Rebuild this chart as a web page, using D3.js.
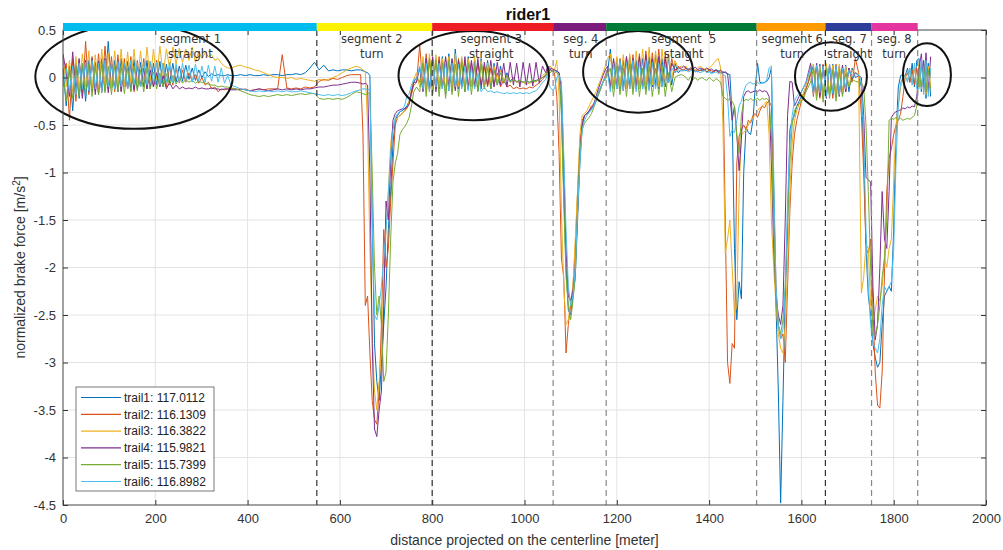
<!DOCTYPE html>
<html>
<head>
<meta charset="utf-8">
<script src="https://cdn.jsdelivr.net/npm/d3@7/dist/d3.min.js"></script>
<style>
    body { margin: 0; background: #fff; }
    svg text { font-family: "Liberation Sans", Arial, sans-serif; }
</style>
</head>
<body>
<div id="chart"></div>
<script>
// distance along the centerline [m], shared by all trails
const distance = [
    0,7,14,21,28,35,42,49,56,63,70,77,84,91,98,105,112,119,126,133,140,147,154,161,168,175,182,189,196,203,
    210,217,224,231,238,245,252,259,266,273,280,287,294,301,308,315,322,329,336,343,350,357,364,
    375,385,395,405,415,425,435,445,455,465,475,485,495,505,515,525,535,545,555,565,575,585,595,605,615,625,635,
    645,650,655,660,665,670,675,680,685,690,695,700,705,710,715,720,725,730,735,740,745,750,755,760,
    766,773,780,787,794,801,808,815,822,829,836,843,850,857,864,871,878,885,892,899,906,913,920,927,934,941,
    948,955,962,969,976,983,990,997,1004,1011,1018,1025,1032,1039,1046,
    1050,1055,1060,1065,1070,1075,1080,1085,1090,1095,1100,1105,1110,1115,1120,1125,1130,1135,1140,1145,
    1150,1155,1160,1165,1170,1175,1180,
    1186,1193,1200,1207,1214,1221,1228,1235,1242,1249,1256,1263,1270,1277,1284,1291,1298,1305,1312,1319,1326,1333,1340,
    1345,1350,1355,1360,1365,1370,1375,1380,1385,1390,1395,1400,1405,1410,1415,1420,1425,1430,1435,1440,
    1445,1450,1455,1460,1465,1470,1475,1480,1485,1490,1495,1500,1505,1510,1515,1520,1525,1530,1535,1540,
    1545,1550,1555,1560,1565,1570,1575,1580,1585,1590,1595,1600,1605,1610,1615,1620,
    1626,1633,1640,1647,1654,1661,1668,1675,1682,1689,1696,1703,1710,1717,1724,
    1730,1735,1740,1745,1750,1755,1760,1765,1770,1775,1780,1785,1790,1795,1800,1805,1810,1815,1820,1825,
    1830,1835,1840,1845,1850,
    1855,1860,1865,1870,1875,1880
];

const trail1 = [
    0.10,-0.30,0.12,-0.35,0.15,-0.22,0.14,-0.25,0.18,-0.15, 0.16,-0.18,0.20,-0.14,0.38,-0.12,0.18,-0.15,0.20,-0.10,
    0.17,-0.14,0.19,-0.12,0.16,-0.10,0.18,-0.12,0.15,-0.08, 0.17,-0.10,0.14,-0.06,0.15,-0.05,0.12,-0.04,0.13,-0.02,
    0.10,-0.03,0.08,0.00,0.06,0.01,0.04,0.02,0.03,0.02, 0.02,0.03,0.02,
    0.02,0.03,0.02,0.03,0.02,0.02,0.03,0.02,0.03,0.03, 0.02,0.03,0.03,0.04,0.03,0.05,0.10,0.16,0.08,0.13, 0.07,0.08,0.07,0.08,0.08,0.07,0.08,
    0.08,0.07,0.06,0.05,0.02,-1.50,-2.80,-3.20,-3.40,-3.00, -2.60,-2.20,-1.60,-1.20,-0.70,-0.45,-0.40,-0.36,-0.35,-0.33, -0.30,-0.25,-0.15,-0.05,
    0.00,-0.05,0.15,-0.12,0.18,-0.15,0.20,-0.12,0.22,-0.18, 0.25,-0.15,0.30,-0.12,0.20,-0.15,0.22,-0.10,0.18,-0.14,
    0.20,-0.10,0.18,-0.12,0.15,-0.08,0.12,-0.06,0.05,-0.04, 0.00,-0.05,-0.03,-0.05,-0.04,-0.05,-0.04,-0.03,-0.02,0.00, 0.02,
    0.08,0.09,0.07,0.08,0.06,0.05,-0.30,-1.20,-2.00,-2.45, -2.50,-2.30,-2.10,-1.50,-0.90,-0.50,-0.40,-0.38,-0.36,-0.33, -0.30,-0.25,-0.18,-0.12,-0.05,0.00,0.05,
    0.30,-0.10,0.20,-0.12,0.18,-0.10,0.22,-0.12,0.18,-0.10, 0.20,-0.12,0.22,-0.10,0.24,-0.12,0.20,-0.10,0.22,-0.08, 0.15,0.05,0.08,
    0.08,0.07,0.09,0.08,0.07,0.08,0.06,0.08,0.07,0.08, 0.06,0.07,0.05,0.06,0.08,0.07,0.05,0.06,0.05,0.04,
    0.03,-0.40,-1.80,-2.55,-2.15,-2.33,-1.00,-0.52,-0.58,-0.60, -0.45,-0.10,0.15,-0.05,-0.06,-0.05,-0.04,0.00,0.10,-1.20,
    -2.40,-3.30,-4.48,-3.40,-2.30,-1.60,-0.55,-0.45,-0.40,-0.30, -0.25,-0.20,-0.18,-0.12,-0.05,0.05,
    0.12,-0.18,0.14,-0.20,0.13,-0.18,0.14,-0.20,0.12,-0.18, 0.13,-0.15,0.10,0.00,0.02,
    -0.10,-0.80,-1.80,-2.30,-2.50,-2.80,-2.95,-3.05,-3.00,-2.60, -2.30,-2.25,-2.20,-2.25,-1.60,-0.60,-0.10,0.02,0.03,0.02, 0.10,-0.05,0.15,-0.10,0.18,
    0.20,-0.15,0.18,-0.22,0.15,-0.20
];

const trail2 = [
    0.05,0.15,-0.45,0.20,-0.25,0.18,-0.20,0.38,-0.18,0.22, -0.15,0.25,-0.16,0.33,-0.12,0.22,-0.15,0.24,-0.14,0.20,
    -0.12,0.22,-0.15,0.18,-0.10,0.20,-0.12,0.17,-0.10,0.18, -0.08,0.15,-0.10,0.12,-0.08,0.10,-0.06,0.08,-0.05,0.05,
    -0.04,0.03,-0.06,0.00,-0.08,-0.05,-0.12,-0.10,-0.15,-0.12, -0.13,-0.12,-0.12,
    -0.12,-0.13,-0.12,-0.14,-0.13,-0.12,-0.13,-0.12,-0.12,-0.12, 0.24,-0.11,-0.12,-0.11,-0.12,-0.10,-0.11,-0.10,-0.04,-0.02, -0.03,-0.01,-0.02,0.00,0.02,0.03,0.03,
    0.03,-0.60,-2.40,-2.30,-2.90,-3.40,-3.60,-3.65,-3.30,-2.60, -1.60,-2.00,-1.80,-1.30,-0.90,-0.50,-0.42,-0.40,-0.38,-0.35, -0.32,-0.28,-0.18,-0.08,
    -0.05,0.34,-0.12,0.25,-0.15,0.20,-0.12,0.22,-0.10,0.20, -0.14,0.18,-0.12,0.20,-0.10,0.18,-0.12,0.16,-0.10,0.15,
    -0.08,0.12,-0.10,0.10,-0.08,0.05,-0.10,-0.02,-0.10,-0.08, -0.12,-0.10,-0.12,-0.11,-0.12,-0.10,-0.11,-0.08,-0.06,-0.02, 0.02,
    0.06,0.08,0.07,0.05,-0.20,-0.80,-1.90,-2.10,-2.90,-2.60, -2.40,-2.20,-1.80,-1.20,-0.70,-0.45,-0.40,-0.38,-0.35,-0.30, -0.28,-0.22,-0.15,-0.10,-0.05,0.02,0.08,
    -0.10,0.18,-0.12,0.20,-0.10,0.22,-0.12,0.24,-0.10,0.25, -0.12,0.28,-0.10,0.26,-0.08,0.30,-0.10,0.25,-0.05,0.20, 0.05,0.12,0.08,
    0.08,0.10,0.07,0.09,0.08,0.06,0.08,0.07,0.09,0.08, 0.06,0.08,0.07,0.06,0.08,0.05,0.06,0.04,-1.50,-3.00,
    -3.22,-2.80,-2.85,-0.90,-0.62,-0.55,-0.50,-0.55,-0.45,-0.48, -0.40,-0.38,-0.42,-0.35,-0.30,-0.32,-0.27,-0.25,-0.30,-1.20,
    -2.20,-2.60,-2.75,-2.70,-3.00,-2.20,-1.40,-0.90,-0.60,-0.45, -0.35,-0.25,-0.20,-0.12,-0.05,0.05,
    -0.20,0.12,-0.22,0.14,-0.20,0.12,-0.22,0.14,-0.18,0.12, -0.15,0.10,-0.05,0.20,0.05,
    -0.40,-1.00,-1.80,-1.85,-1.70,-2.40,-3.10,-3.45,-3.48,-3.10, -2.06,-1.20,-0.85,-0.75,-0.60,-0.50,-0.45,-0.38,-0.20,0.00, 0.05,-0.05,0.08,-0.08,0.10,
    -0.10,0.15,-0.15,0.10,-0.12,0.05
];

const trail3 = [
    0.20,-0.10,0.18,-0.15,0.22,-0.12,0.25,-0.10,0.28,-0.12, 0.24,-0.15,0.30,-0.10,0.26,-0.12,0.28,-0.08,0.30,-0.10,
    0.27,-0.06,0.30,-0.08,0.28,-0.05,0.32,-0.04,0.30,-0.02, 0.33,0.02,0.30,0.10,0.32,0.14,0.31,0.16,0.30,0.18,
    0.32,0.16,0.28,0.20,0.26,0.22,0.24,0.18,0.20,0.15, 0.12,0.10,0.10,
    0.12,0.13,0.11,0.10,0.08,0.07,0.05,0.03,0.01,0.00, 0.00,-0.01,0.00,-0.02,-0.01,-0.02,-0.03,-0.04,-0.02,-0.03, -0.02,0.00,0.02,0.05,0.08,0.10,0.12,
    0.10,0.08,0.06,-0.50,-1.80,-2.70,-3.30,-3.50,-3.20,-2.90, -2.20,-1.60,-1.20,-0.70,-0.50,-0.45,-0.42,-0.40,-0.38,-0.36, -0.33,-0.25,-0.12,-0.02,
    0.05,-0.10,0.22,-0.15,0.25,-0.12,0.24,-0.10,0.20,-0.15, 0.22,-0.12,0.25,-0.10,0.22,-0.12,0.20,-0.10,0.22,-0.08,
    0.18,-0.10,0.15,-0.06,0.12,-0.05,0.08,-0.04,0.02,-0.05, -0.03,-0.05,-0.06,-0.05,-0.07,-0.06,-0.05,-0.04,-0.02,0.02, 0.05,
    0.10,0.12,0.10,0.08,0.18,-0.20,-1.40,-2.20,-2.60,-2.55, -2.35,-2.20,-1.70,-1.20,-0.60,-0.40,-0.38,-0.35,-0.30,-0.25, -0.20,-0.15,-0.08,-0.02,0.05,0.12,0.20,
    0.25,-0.12,0.22,-0.10,0.24,-0.12,0.25,-0.10,0.28,-0.12, 0.30,-0.10,0.32,-0.08,0.28,-0.10,0.30,-0.06,0.25,-0.02, 0.18,0.10,0.12,
    0.10,0.12,0.08,0.10,0.09,0.08,0.10,0.12,0.10,0.09, 0.08,0.10,0.12,0.15,0.18,0.20,0.10,-0.50,-1.85,-1.70,
    -1.50,-2.00,-2.50,-2.40,-1.20,-0.60,-0.58,-0.55,-0.50,-0.45, -0.42,-0.40,-0.35,-0.32,-0.30,-0.28,-0.25,-0.60,-1.50,-2.00,
    -2.40,-2.70,-2.85,-2.90,-2.60,-2.00,-1.20,-0.70,-0.45,-0.35, -0.28,-0.22,-0.15,-0.08,0.00,0.10,
    0.14,-0.20,0.12,-0.22,0.15,-0.18,0.13,-0.20,0.14,-0.16, 0.12,-0.10,0.08,0.05,0.04,
    -2.27,-2.10,-1.75,-1.80,-2.40,-2.55,-2.45,-2.30,-2.35,-2.20, -1.90,-2.00,-1.80,-1.70,-1.10,-0.50,-0.30,-0.10,0.00,0.02, -0.03,0.08,-0.05,0.10,-0.08,
    0.15,-0.12,0.10,-0.18,0.12,-0.10
];

const trail4 = [
    0.25,0.05,-0.20,0.27,-0.15,0.20,-0.22,0.18,-0.15,0.20, -0.18,0.17,-0.14,0.20,-0.16,0.15,-0.12,0.18,-0.15,0.14,
    -0.12,0.15,-0.13,0.12,-0.10,0.10,-0.12,0.08,-0.10,0.05, -0.10,0.02,-0.12,-0.05,-0.12,-0.08,-0.12,-0.10,-0.12,-0.11,
    -0.12,-0.10,-0.12,-0.11,-0.12,-0.12,-0.11,-0.12,-0.12,-0.13, -0.12,-0.12,-0.13,
    -0.13,-0.12,-0.13,-0.14,-0.13,-0.12,-0.13,-0.14,-0.13,-0.12, -0.13,-0.12,-0.13,-0.12,-0.13,-0.12,-0.12,-0.11,-0.10,-0.10, -0.09,-0.08,-0.08,-0.07,-0.06,-0.05,-0.05,
    -0.06,-0.07,-0.06,-0.08,-1.00,-2.80,-3.70,-3.78,-3.50,-3.30, -2.40,-1.30,-1.50,-0.90,-0.45,-0.38,-0.35,-0.34,-0.33,-0.33, -0.32,-0.28,-0.15,-0.05,
    -0.05,0.10,-0.15,0.20,-0.12,0.22,-0.15,0.18,-0.12,0.22, -0.10,0.20,-0.14,0.18,-0.10,0.22,-0.12,0.18,-0.10,0.20,
    -0.12,0.16,-0.08,0.18,-0.10,0.16,-0.08,0.15,-0.10,0.16, -0.08,0.15,-0.10,0.16,-0.08,0.15,-0.09,0.16,-0.06,0.12, 0.05,
    0.12,0.10,0.09,0.08,0.07,0.05,-0.10,-0.90,-1.80,-2.30, -2.35,-2.25,-2.00,-1.40,-0.80,-0.50,-0.40,-0.38,-0.35,-0.32, -0.28,-0.20,-0.12,-0.05,0.02,0.08,0.12,
    -0.12,0.20,-0.10,0.18,-0.14,0.22,-0.10,0.20,-0.12,0.22, -0.10,0.24,-0.12,0.20,-0.10,0.22,-0.08,0.20,-0.05,0.15, 0.08,0.10,0.10,
    0.12,0.10,0.08,0.10,0.09,0.11,0.08,0.10,0.09,0.08, 0.10,0.08,0.09,0.07,0.08,0.06,0.08,0.05,0.06,0.04,
    -0.20,-0.45,-0.30,-0.60,-0.98,-0.65,-0.20,-0.15,-0.14,-0.16, -0.15,-0.14,-0.15,-0.13,-0.15,-0.14,-0.15,-0.20,-0.90,-1.80,
    -2.30,-2.50,-2.60,-2.40,-1.50,-0.40,-0.04,-0.05,-0.30,-0.25, -0.20,-0.15,-0.10,-0.05,0.05,0.15,
    -0.15,0.15,-0.20,0.13,-0.22,0.14,-0.18,0.12,-0.20,0.13, -0.15,0.10,-0.02,0.05,0.02,
    0.00,-0.40,-1.05,-1.08,-1.10,-2.20,-2.76,-2.60,-2.00,-1.20, -1.70,-1.80,-1.20,-0.42,-0.38,-0.36,-0.35,-0.34,-0.32,-0.33, -0.31,-0.32,-0.30,-0.31,-0.20,
    0.10,0.25,-0.10,0.26,-0.15,0.22
];

const trail5 = [
    0.05,-0.25,0.10,-0.22,0.12,-0.20,0.15,-0.18,0.14,-0.20, 0.12,-0.18,0.15,-0.16,0.12,-0.18,0.13,-0.15,0.12,-0.17,
    0.10,-0.15,0.12,-0.14,0.08,-0.15,0.10,-0.12,0.06,-0.12, 0.05,-0.10,0.04,-0.08,0.02,-0.07,0.00,-0.06,-0.02,-0.05,
    -0.03,-0.06,-0.04,-0.05,-0.06,-0.07,-0.08,-0.08,-0.10,-0.09, -0.10,-0.10,-0.11,
    -0.12,-0.14,-0.16,-0.18,-0.19,-0.20,-0.19,-0.20,-0.19,-0.18, -0.19,-0.18,-0.19,-0.18,-0.17,-0.18,-0.17,-0.17,-0.22,-0.23, -0.22,-0.23,-0.22,-0.23,-0.21,-0.18,-0.15,
    -0.16,-0.17,-0.18,-0.17,-0.16,-1.00,-2.00,-2.50,-2.30,-2.60, -3.20,-3.10,-2.50,-1.70,-1.10,-0.90,-0.80,-0.60,-0.55,-0.52, -0.48,-0.42,-0.30,-0.15,
    -0.10,-0.15,0.15,-0.20,0.20,-0.18,0.18,-0.20,0.15,-0.22, 0.18,-0.18,0.14,-0.20,0.16,-0.15,0.15,-0.18,0.12,-0.15,
    0.14,-0.12,0.10,-0.12,0.08,-0.08,0.05,-0.06,0.02,-0.05, -0.02,-0.04,-0.03,-0.05,-0.04,-0.05,-0.03,-0.04,-0.02,0.00, 0.03,
    0.06,0.05,0.07,0.06,0.05,0.03,-0.40,-1.30,-2.10,-2.40, -2.55,-2.35,-2.10,-1.40,-0.80,-0.55,-0.48,-0.45,-0.42,-0.38, -0.32,-0.25,-0.18,-0.12,-0.05,-0.02,0.03,
    0.10,-0.20,0.12,-0.18,0.10,-0.20,0.14,-0.18,0.12,-0.20, 0.10,-0.18,0.12,-0.20,0.10,-0.18,0.12,-0.20,0.05,-0.15, 0.00,0.02,0.03,
    0.02,0.00,-0.03,0.01,-0.02,0.00,-0.03,-0.01,0.00,-0.02, -0.03,0.00,-0.02,-0.04,-0.01,-0.03,-0.05,-0.20,-0.22,-0.24,
    -0.23,-0.25,-0.30,-0.62,-0.80,-0.40,-0.25,-0.23,-0.24,-0.22, -0.24,-0.23,-0.22,-0.24,-0.22,-0.23,-0.22,-0.25,-0.60,-1.60,
    -2.40,-2.60,-2.70,-2.55,-2.20,-1.50,-0.90,-0.50,-0.35,-0.30, -0.28,-0.25,-0.22,-0.15,-0.10,-0.05,
    0.10,-0.24,0.08,-0.26,0.10,-0.22,0.08,-0.25,0.06,-0.20, 0.04,-0.10,-0.02,-0.04,-0.05,
    -0.06,-0.10,-0.50,-1.20,-2.00,-2.70,-2.72,-2.60,-2.40,-2.10, -1.90,-1.50,-0.45,-0.43,-0.44,-0.42,-0.44,-0.43,-0.45,-0.44, -0.43,-0.44,-0.42,-0.40,-0.30,
    0.05,-0.10,0.12,-0.15,0.08,-0.12
];

const trail6 = [
    -0.10,0.10,-0.15,0.12,-0.18,0.15,-0.12,0.16,-0.14,0.18, -0.12,0.15,-0.16,0.18,-0.10,0.16,-0.12,0.17,-0.10,0.15,
    -0.12,0.18,-0.08,0.15,-0.10,0.16,-0.08,0.17,-0.06,0.16, -0.08,0.15,-0.05,0.16,-0.06,0.14,-0.05,0.15,-0.04,0.13,
    -0.05,0.14,-0.04,0.12,-0.05,0.13,-0.04,0.12,-0.05,0.10, -0.06,0.02,-0.08,
    -0.10,-0.12,-0.13,-0.14,-0.15,-0.14,-0.15,-0.14,-0.15,-0.14, -0.15,-0.14,-0.15,-0.15,-0.14,-0.15,-0.16,-0.17,-0.18,-0.19, -0.18,-0.19,-0.18,-0.19,-0.18,-0.16,-0.14,
    -0.13,-0.12,-0.12,-0.13,-0.12,-1.50,-2.50,-2.55,-2.40,-2.20, -1.90,-1.60,-1.20,-0.80,-0.55,-0.42,-0.38,-0.36,-0.34,-0.30, -0.20,-0.17,-0.08,-0.02,
    -0.02,0.12,-0.12,0.15,-0.15,0.18,-0.10,0.15,-0.12,0.16, -0.14,0.15,-0.10,0.14,-0.12,0.12,-0.14,0.10,-0.12,0.05,
    -0.15,-0.10,-0.15,-0.14,-0.16,-0.15,-0.16,-0.17,-0.16,-0.17, -0.16,-0.17,-0.16,-0.17,-0.16,-0.17,-0.15,-0.14,-0.10,-0.05, -0.02,
    0.04,-0.10,-0.13,-0.12,0.00,0.02,-0.05,-0.80,-1.60,-2.20, -2.40,-2.30,-2.00,-1.40,-0.90,-0.55,-0.45,-0.40,-0.37,-0.34, -0.30,-0.22,-0.15,-0.10,-0.05,0.00,0.05,
    -0.15,0.15,-0.12,0.18,-0.14,0.16,-0.12,0.18,-0.15,0.16, -0.12,0.18,-0.14,0.16,-0.12,0.15,-0.10,0.14,-0.05,0.10, 0.05,0.08,0.07,
    0.07,0.08,0.06,0.07,0.08,0.06,0.07,0.05,0.06,0.07, 0.05,0.06,0.04,0.05,0.06,0.04,0.05,0.03,0.02,-0.20,
    -0.62,-0.55,-0.58,-0.45,-0.30,-0.25,-0.15,-0.08,-0.06,-0.05, -0.07,-0.06,-0.05,-0.07,-0.05,-0.06,-0.02,0.10,0.12,-1.00,
    -2.20,-2.60,-2.75,-2.65,-2.20,-1.30,-0.70,-0.40,-0.25,-0.20, -0.17,-0.15,-0.10,-0.05,0.02,0.10,
    -0.18,0.13,-0.16,0.12,-0.20,0.14,-0.17,0.12,-0.18,0.10, -0.12,0.08,0.00,0.04,0.03,
    -0.05,-0.60,-1.60,-2.20,-2.60,-2.80,-2.85,-2.90,-2.75,-2.40, -2.20,-2.25,-2.20,-2.15,-1.80,-0.90,-0.30,-0.05,0.00,0.01, -0.05,0.10,-0.08,0.15,-0.12,
    -0.12,0.20,-0.18,0.18,-0.20,0.10
];

const trailNames = ["trail1: 117.0112", "trail2: 116.1309", "trail3: 116.3822",
                    "trail4: 115.9821", "trail5: 115.7399", "trail6: 116.8982"];
const trailColors = ["#0072BD", "#D95319", "#EDB120", "#7E2F8E", "#77AC30", "#4DBEEE"];

// track segments (boundaries in meters)
const segmentBounds = [0, 550, 800, 1062, 1177, 1503, 1652, 1752, 1852];
const segmentColors = ["#00bcee", "#fff200", "#ee1c25", "#7b1c7d", "#007a37", "#ff9a00", "#2e3d9a", "#e3359d"];
const segmentLabels = [["segment 1", "straight"], ["segment 2", "turn"], ["segment 3", "straight"],
                       ["seg. 4", "turn"], ["segment  5", "staight"], ["segment 6", "turn"],
                       ["seg. 7", "straight"], ["seg. 8", "turn"]];
const segmentLabelAt = [276, 669, 928, 1122, 1345, 1580, 1704, 1801];
const dividerDark = [true, true, false, false, false, true, false, false];

// hand drawn circles around the straights (center / radius in data units)
const circles = [
    {cx: 154, cy: 0.01, rx: 214, ry: 0.55},
    {cx: 890, cy: 0.02, rx: 163, ry: 0.47},
    {cx: 1246, cy: 0.06, rx: 119, ry: 0.43},
    {cx: 1664, cy: 0.01, rx: 78, ry: 0.36},
    {cx: 1872, cy: 0.03, rx: 52, ry: 0.33}
];

const xTicks = [0, 200, 400, 600, 800, 1000, 1200, 1400, 1600, 1800, 2000];
const yTicks = [0.5, 0, -0.5, -1, -1.5, -2, -2.5, -3, -3.5, -4, -4.5];

const trails = [trail1, trail2, trail3, trail4, trail5, trail6];
trails.forEach(function(t, i) {
    if (t.length !== distance.length) throw new Error("trail" + (i + 1) + " has " + t.length + " values, expected " + distance.length);
});

let width = 1003, height = 550;
let margin = {top: 30, right: 17, bottom: 45, left: 63};

let x = d3.scaleLinear().domain([0, 2000]).range([margin.left, width - margin.right]);
let y = d3.scaleLinear().domain([-4.5, 0.5]).range([height - margin.bottom, margin.top]);

let svg = d3.select("#chart").append("svg")
    .attr("width", width)
    .attr("height", height);

svg.append("defs").append("clipPath").attr("id", "plotclip")
    .append("rect")
    .attr("x", x(0)).attr("y", y(0.5))
    .attr("width", x(2000) - x(0)).attr("height", y(-4.5) - y(0.5));

// grid
svg.append("g").selectAll("line")
    .data(xTicks.slice(1, -1))
    .enter().append("line")
    .attr("x1", d => x(d)).attr("x2", d => x(d))
    .attr("y1", y(0.5)).attr("y2", y(-4.5))
    .attr("stroke", "#e3e3e3");
svg.append("g").selectAll("line")
    .data(yTicks.slice(1, -1))
    .enter().append("line")
    .attr("x1", x(0)).attr("x2", x(2000))
    .attr("y1", d => y(d)).attr("y2", d => y(d))
    .attr("stroke", "#e3e3e3");

// trails
let line = d3.line()
    .x((d, i) => x(distance[i]))
    .y(d => y(d));

svg.append("g").attr("clip-path", "url(#plotclip)")
    .selectAll("path")
    .data(trails)
    .enter().append("path")
    .attr("d", line)
    .attr("fill", "none")
    .attr("stroke", (d, i) => trailColors[i])
    .attr("stroke-width", 1)
    .attr("stroke-linejoin", "round");

// segment dividers
svg.append("g").selectAll("line")
    .data(segmentBounds.slice(1))
    .enter().append("line")
    .attr("x1", d => x(d)).attr("x2", d => x(d))
    .attr("y1", y(0.5)).attr("y2", y(-4.5))
    .attr("stroke", (d, i) => dividerDark[i] ? "#333" : "#888")
    .attr("stroke-width", 1.2)
    .attr("stroke-dasharray", "6,4");

// circles
svg.append("g").selectAll("ellipse")
    .data(circles)
    .enter().append("ellipse")
    .attr("cx", d => x(d.cx))
    .attr("cy", d => y(d.cy))
    .attr("rx", d => x(d.rx) - x(0))
    .attr("ry", d => y(0) - y(d.ry))
    .attr("fill", "none")
    .attr("stroke", "#111")
    .attr("stroke-width", 2);

// segment labels
let labels = svg.append("g")
    .attr("font-size", 11.5)
    .attr("fill", "#333")
    .attr("text-anchor", "middle");
segmentLabels.forEach(function(pair, i) {
    pair.forEach(function(txt, j) {
        labels.append("text")
            .attr("x", x(segmentLabelAt[i]))
            .attr("y", 43 + j * 14.5)
            .style("font-family", "'DejaVu Sans', sans-serif")
            .style("white-space", "pre")
            .text(txt);
    });
});

// axes
let axisFont = function(g) {
    g.select(".domain").remove();
    g.selectAll(".tick line").attr("stroke", "#333");
    g.selectAll(".tick text").attr("fill", "#333").attr("font-size", 13);
};
svg.append("g")
    .attr("transform", "translate(0," + y(-4.5) + ")")
    .call(d3.axisBottom(x).tickValues(xTicks).tickSize(-5).tickPadding(9).tickFormat(d3.format("d")))
    .call(axisFont);
svg.append("g")
    .attr("transform", "translate(" + x(0) + ",0)")
    .call(d3.axisLeft(y).tickValues(yTicks).tickSize(-5).tickPadding(7).tickFormat(d => d))
    .call(axisFont);
svg.append("g")
    .attr("transform", "translate(0," + y(0.5) + ")")
    .call(d3.axisTop(x).tickValues(xTicks).tickSize(-5).tickFormat(""))
    .call(axisFont);
svg.append("g")
    .attr("transform", "translate(" + x(2000) + ",0)")
    .call(d3.axisRight(y).tickValues(yTicks).tickSize(-5).tickFormat(""))
    .call(axisFont);

svg.append("rect")
    .attr("x", x(0)).attr("y", y(0.5))
    .attr("width", x(2000) - x(0)).attr("height", y(-4.5) - y(0.5))
    .attr("fill", "none")
    .attr("stroke", "#444");

// segment colour bar on top
svg.append("g").selectAll("rect")
    .data(segmentColors)
    .enter().append("rect")
    .attr("x", (d, i) => x(segmentBounds[i]))
    .attr("width", (d, i) => x(segmentBounds[i + 1]) - x(segmentBounds[i]))
    .attr("y", y(0.5) - 7)
    .attr("height", 8)
    .attr("fill", d => d);

// title and axis labels
svg.append("text")
    .attr("x", 528).attr("y", 20)
    .attr("text-anchor", "middle")
    .attr("font-size", 16).attr("font-weight", "bold")
    .attr("fill", "#111")
    .text("rider1");

svg.append("text")
    .attr("x", (x(0) + x(2000)) / 2).attr("y", 545)
    .attr("text-anchor", "middle")
    .attr("font-size", 14).attr("fill", "#333")
    .text("distance projected on the centerline [meter]");

let ylab = svg.append("text")
    .attr("transform", "translate(25," + ((y(0.5) + y(-4.5)) / 2) + ") rotate(-90)")
    .attr("text-anchor", "middle")
    .attr("font-size", 14).attr("fill", "#333");
ylab.append("tspan").text("normalized brake force [m/s");
ylab.append("tspan").attr("font-size", 10).attr("dy", -5).text("2");
ylab.append("tspan").attr("dy", 5).text("]");

// legend
let legend = svg.append("g").attr("transform", "translate(76,387)");
legend.append("rect")
    .attr("width", 138).attr("height", 104)
    .attr("fill", "#fff").attr("stroke", "#555").attr("stroke-width", 0.8);
let items = legend.selectAll("g.item")
    .data(trailNames)
    .enter().append("g")
    .attr("class", "item")
    .attr("transform", (d, i) => "translate(0," + (10.5 + i * 16.8) + ")");
items.append("line")
    .attr("x1", 5).attr("x2", 45)
    .attr("stroke", (d, i) => trailColors[i])
    .attr("stroke-width", 1.2);
items.append("text")
    .attr("x", 48).attr("dy", "0.35em")
    .attr("font-size", 12).attr("fill", "#222")
    .text(d => d);
</script>
</body>
</html>
